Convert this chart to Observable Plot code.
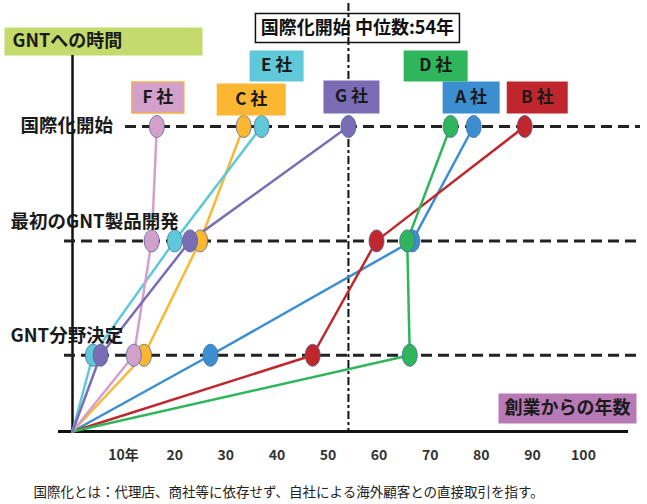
<!DOCTYPE html>
<html><head><meta charset="utf-8">
<script src="https://cdn.jsdelivr.net/npm/d3@7"></script>
<script src="https://cdn.jsdelivr.net/npm/@observablehq/plot@0.6"></script>
<style>
html,body{margin:0;padding:0;background:#fff;overflow:hidden}
g[aria-label^="x-axis"] text{font-weight:bold;font-size:14px;fill:#333}
</style></head><body><div id="chart"></div>
<script>
// ---- data ----
const companies = ["A", "B", "C", "D", "E", "F", "G"];
const companyLabels = ["A 社", "B 社", "C 社", "D 社", "E 社", "F 社", "G 社"];
const stages = ["創業", "GNT分野決定", "最初のGNT製品開発", "国際化開始"];
const gntYears = [27, 47, 14, 66, 4, 12, 5.5];        // 創業からGNT分野決定までの年数
const productYears = [66.5, 59.5, 25, 65.5, 20, 15.5, 23]; // 最初のGNT製品開発
const intlYears = [78.5, 88.5, 33.5, 74, 37, 16.5, 54];    // 国際化開始
const xTicks = [10, 20, 30, 40, 50, 60, 70, 80, 90, 100];
const xTickLabels = ["10年", "20", "30", "40", "50", "60", "70", "80", "90", "100"];
const yAxisTitle = "GNTへの時間";
const xAxisTitle = "創業からの年数";
const footnote = "国際化とは：代理店、商社等に依存せず、自社による海外顧客との直接取引を指す。";

// ---- styles / layout ----
const companyColors = ["#3b8ed0", "#c0272d", "#fbb731", "#2fb65b", "#60c9d9", "#d3a0cc", "#7a6db5"];
const stageSpacing = [0, 2, 5, 8]; // uneven vertical spacing of the stage rows (layout)
const labelLayout = {
  A: {dx: -2.5, dy: -29, w: 57, h: 32},
  B: {dx: 12.5, dy: -29, w: 61, h: 32},
  C: {dx: 7.5, dy: -27, w: 69, h: 32},
  D: {dx: -15, dy: -60.5, w: 64, h: 31},
  E: {dx: 15, dy: -60.5, w: 54, h: 31},
  F: {dx: 1, dy: -29, w: 52, h: 31, stroke: "#f5b04a"},
  G: {dx: 3, dy: -29.5, w: 56, h: 33}
};
const FONT = "'Noto Sans CJK JP', 'Noto Sans', sans-serif";

// ---- derived tables ----
const rows = companies.flatMap((c, i) => [
  {company: c, year: 0, stage: 0},
  {company: c, year: gntYears[i], stage: 1},
  {company: c, year: productYears[i], stage: 2},
  {company: c, year: intlYears[i], stage: 3}
]);
const points = rows.filter(d => d.stage > 0);
const median = d3.median(intlYears);
const tickLabel = new Map(xTicks.map((t, i) => [t, xTickLabels[i]]));

function rectSymbol(w, h) {
  return {draw(p) { p.moveTo(-w / 2, -h / 2); p.lineTo(w / 2, -h / 2); p.lineTo(w / 2, h / 2); p.lineTo(-w / 2, h / 2); p.closePath(); }};
}
function ellipseSymbol(rx, ry) {
  const k = 0.5523;
  return {draw(p) {
    p.moveTo(rx, 0);
    p.bezierCurveTo(rx, ry * k, rx * k, ry, 0, ry);
    p.bezierCurveTo(-rx * k, ry, -rx, ry * k, -rx, 0);
    p.bezierCurveTo(-rx, -ry * k, -rx * k, -ry, 0, -ry);
    p.bezierCurveTo(rx * k, -ry, rx, -ry * k, rx, 0);
    p.closePath();
  }};
}

const labelMarks = companies.flatMap((c, i) => {
  const L = labelLayout[c];
  const d = [{company: c, year: intlYears[i], stage: 3, label: companyLabels[i]}];
  return [
    Plot.dot(d, {x: "year", y: "stage", dx: L.dx, dy: L.dy, symbol: rectSymbol(L.w, L.h), fill: "company", stroke: L.stroke || "none", strokeWidth: 1.5}),
    Plot.text(d, {x: "year", y: "stage", dx: L.dx, dy: L.dy, text: "label", fontSize: 17, fontWeight: "bold", fill: "#1a1a1a"})
  ];
});

const chart = Plot.plot({
  width: 647,
  height: 504,
  marginLeft: 58,
  marginRight: 19,
  marginTop: 55,
  marginBottom: 73,
  style: {fontFamily: FONT, fontSize: "14px", background: "white", color: "#111", overflow: "visible"},
  x: {domain: [0, 100], range: [72, 583], ticks: xTicks, tickFormat: d => tickLabel.get(d), tickSize: 0, tickPadding: 19, label: null},
  y: {type: "linear", transform: s => stageSpacing[s], domain: [0, 8], range: [431, 126], axis: null},
  color: {domain: companies, range: companyColors},
  marks: [
    // title box
    Plot.dot([median], {x: d => d, frameAnchor: "top", dx: 9, dy: -27.5, symbol: rectSymbol(204, 29), fill: "white", stroke: "#111", strokeWidth: 1.5}),
    Plot.text([median], {x: d => d, frameAnchor: "top", lineAnchor: "middle", dx: 9, dy: -27.5, text: d => `国際化開始 中位数:${d}年`, fontSize: 18, fontWeight: "bold", fill: "#111"}),
    // y-axis title box
    Plot.dot([yAxisTitle], {frameAnchor: "top-left", dx: 45, dy: -14, symbol: rectSymbol(198, 28), fill: "#c4da6c"}),
    Plot.text([yAxisTitle], {frameAnchor: "top-left", lineAnchor: "middle", dx: -46, dy: -14, textAnchor: "start", fontSize: 18, fontWeight: "bold", fill: "#1a1a1a"}),
    // x-axis title box
    Plot.dot([xAxisTitle], {frameAnchor: "bottom-right", dx: -61, dy: -23, symbol: rectSymbol(138, 30), fill: "#b77ab4"}),
    Plot.text([xAxisTitle], {frameAnchor: "bottom-right", textAnchor: "middle", lineAnchor: "middle", dx: -61, dy: -23, fontSize: 18, fontWeight: "bold", fill: "#1a1a1a"}),
    // axes lines
    Plot.ruleX([0], {stroke: "#111", strokeWidth: 2.5}),
    Plot.ruleY([0], {stroke: "#111", strokeWidth: 3}),
    // stage dashed lines
    Plot.ruleY([3], {insetLeft: 67, insetRight: -12, stroke: "#222", strokeWidth: 3, strokeDasharray: "11,6"}),
    Plot.ruleY([1, 2], {insetLeft: 6, insetRight: -12, stroke: "#222", strokeWidth: 3, strokeDasharray: "11,6"}),
    // median line
    Plot.ruleX([median], {insetTop: -52, stroke: "#111", strokeWidth: 2, strokeDasharray: "8,3,3,3"}),
    // company paths
    Plot.line(rows, {x: "year", y: "stage", z: "company", stroke: "company", strokeWidth: 2.5}),
    Plot.dot(points, {x: "year", y: "stage", fill: "company", stroke: "#4a6a9a", strokeWidth: 0.8, symbol: ellipseSymbol(7.5, 11)}),
    ...labelMarks,
    // stage labels
    Plot.text([stages[3]], {y: () => 3, frameAnchor: "left", dx: -38, textAnchor: "start", fontSize: 18.5, fontWeight: "bold", fill: "#1a1a1a"}),
    Plot.text([stages[2]], {y: () => 2, frameAnchor: "left", dx: -48, dy: -19, textAnchor: "start", fontSize: 18.5, fontWeight: "bold", fill: "#1a1a1a"}),
    Plot.text([stages[1]], {y: () => 1, frameAnchor: "left", dx: -48, dy: -19, textAnchor: "start", fontSize: 18.5, fontWeight: "bold", fill: "#1a1a1a"}),
    // footnote
    Plot.text([footnote], {frameAnchor: "bottom-left", lineAnchor: "middle", dx: -25, dy: 61, textAnchor: "start", fontSize: 13.5, fill: "#222"})
  ]
});
document.getElementById("chart").append(chart);
</script></body></html>
